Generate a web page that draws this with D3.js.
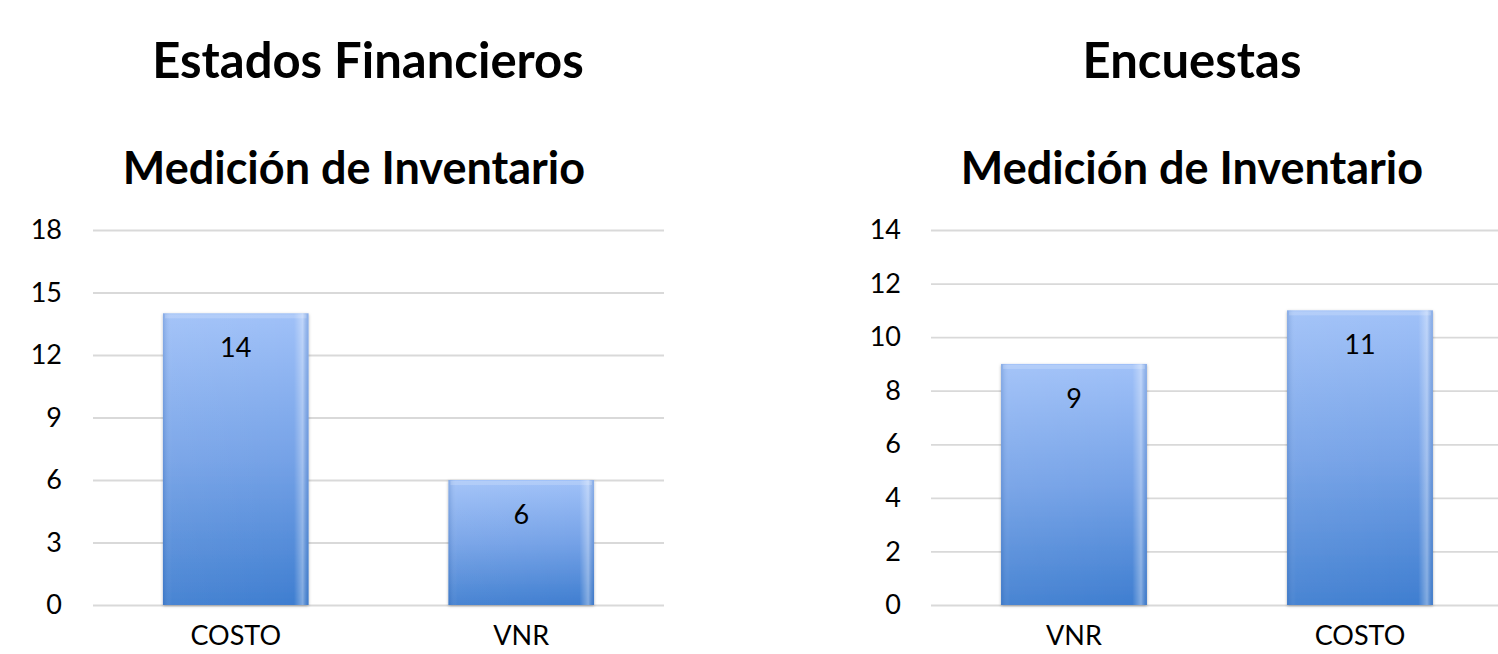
<!DOCTYPE html>
<html>
<head>
<meta charset="utf-8">
<script src="https://cdn.jsdelivr.net/npm/d3@7"></script>
<style>
  body { margin: 0; background: #fff; }
  svg { display: block; font-family: Lato, "Open Sans", sans-serif; }
</style>
</head>
<body>
<svg id="chart" width="1498" height="654"></svg>
<script>
// data
var finCategories = ["COSTO", "VNR"];
var finValues = [14, 6];
var finTicks = [0, 3, 6, 9, 12, 15, 18];

var encCategories = ["VNR", "COSTO"];
var encValues = [9, 11];
var encTicks = [0, 2, 4, 6, 8, 10, 12, 14];

var svg = d3.select("#chart");
var defs = svg.append("defs");

// vertical fill of the bars, light on top darker at the bottom
var grad = defs.append("linearGradient")
    .attr("id", "barFill")
    .attr("x1", 0).attr("y1", 0).attr("x2", 0).attr("y2", 1);
grad.append("stop").attr("offset", "0%").attr("stop-color", "#a0c1f8");
grad.append("stop").attr("offset", "50%").attr("stop-color", "#75a2e7");
grad.append("stop").attr("offset", "100%").attr("stop-color", "#3f7ed0");

// side shading across the bar
var side = defs.append("linearGradient")
    .attr("id", "barSide")
    .attr("x1", 0).attr("y1", 0).attr("x2", 1).attr("y2", 0);
side.append("stop").attr("offset", "0%").attr("stop-color", "#2e5fa8").attr("stop-opacity", 0.25);
side.append("stop").attr("offset", "6%").attr("stop-color", "#ffffff").attr("stop-opacity", 0.05);
side.append("stop").attr("offset", "90%").attr("stop-color", "#ffffff").attr("stop-opacity", 0);
side.append("stop").attr("offset", "96%").attr("stop-color", "#ffffff").attr("stop-opacity", 0.35);
side.append("stop").attr("offset", "100%").attr("stop-color", "#2e5fa8").attr("stop-opacity", 0.2);

var shadow = defs.append("filter").attr("id", "shadow")
    .attr("x", "-10%").attr("y", "-10%").attr("width", "120%").attr("height", "120%");
shadow.append("feDropShadow")
    .attr("dx", 0).attr("dy", 1).attr("stdDeviation", 1.5)
    .attr("flood-color", "#000").attr("flood-opacity", 0.3);

function drawChart(opt) {
    var x = d3.scaleBand()
        .domain(opt.categories)
        .range(opt.xRange)
        .paddingInner(0.49)
        .paddingOuter(0.245);

    var y = d3.scaleLinear()
        .domain([0, d3.max(opt.ticks)])
        .range([605, 230]);

    var g = svg.append("g");

    // titles
    g.append("text")
        .attr("x", opt.titleX).attr("y", 78)
        .attr("text-anchor", "middle")
        .style("font-weight", "bold")
        .style("font-size", "49px")
        .text(opt.title);
    g.append("text")
        .attr("x", opt.subX).attr("y", 184)
        .attr("text-anchor", "middle")
        .style("font-weight", "bold")
        .style("font-size", "45px")
        .text(opt.subtitle);

    // gridlines
    g.append("g")
        .attr("transform", "translate(" + opt.xRange[0] + ",0)")
        .call(d3.axisLeft(y).tickValues(opt.ticks)
            .tickSize(-(opt.xRange[1] - opt.xRange[0])).tickFormat(""))
        .call(function(a) {
            a.select(".domain").remove();
            a.selectAll("line").attr("stroke", "#d9d9d9").attr("stroke-width", 1.8);
        });

    // tick labels
    g.append("g")
        .attr("transform", "translate(" + opt.labelX + ",0)")
        .call(d3.axisLeft(y).tickValues(opt.ticks).tickSize(0).tickPadding(0))
        .call(function(a) {
            a.select(".domain").remove();
            a.selectAll("text")
                .attr("fill", "#000")
                .style("font-family", "Lato, sans-serif")
                .style("font-size", "27px");
        });

    // bars
    var bars = g.selectAll(".bar").data(opt.values).enter();
    bars.append("rect")
        .attr("x", function(d, i) { return x(opt.categories[i]); })
        .attr("y", function(d) { return y(d); })
        .attr("width", x.bandwidth())
        .attr("height", function(d) { return y(0) - y(d); })
        .attr("fill", "url(#barFill)")
        .attr("filter", "url(#shadow)");
    bars.append("rect")
        .attr("x", function(d, i) { return x(opt.categories[i]); })
        .attr("y", function(d) { return y(d); })
        .attr("width", x.bandwidth())
        .attr("height", function(d) { return y(0) - y(d); })
        .attr("fill", "url(#barSide)");
    // lighter top rim
    bars.append("rect")
        .attr("x", function(d, i) { return x(opt.categories[i]) + 2; })
        .attr("y", function(d) { return y(d) + 1; })
        .attr("width", x.bandwidth() - 4)
        .attr("height", 4)
        .attr("fill", "#ffffff")
        .attr("opacity", 0.18);

    // value labels inside the top end
    bars.append("text")
        .attr("x", function(d, i) { return x(opt.categories[i]) + x.bandwidth() / 2; })
        .attr("y", function(d) { return y(d) + 44; })
        .attr("text-anchor", "middle")
        .style("font-size", "27px")
        .text(function(d) { return d; });

    // category labels (reference crops them at the bottom edge, kept just inside here)
    g.append("g")
        .attr("transform", "translate(0," + y(0) + ")")
        .call(d3.axisBottom(x).tickSize(0).tickPadding(21))
        .call(function(a) {
            a.select(".domain").remove();
            a.selectAll("text")
                .attr("fill", "#000")
                .style("font-family", "Lato, sans-serif")
                .style("font-size", "27px");
        });
}

drawChart({
    title: "Estados Financieros",
    subtitle: "Medición de Inventario",
    titleX: 368, subX: 354,
    categories: finCategories, values: finValues, ticks: finTicks,
    xRange: [93, 664], labelX: 62
});

drawChart({
    title: "Encuestas",
    subtitle: "Medición de Inventario",
    titleX: 1192, subX: 1192,
    categories: encCategories, values: encValues, ticks: encTicks,
    xRange: [931, 1503], labelX: 901
});
</script>
</body>
</html>
